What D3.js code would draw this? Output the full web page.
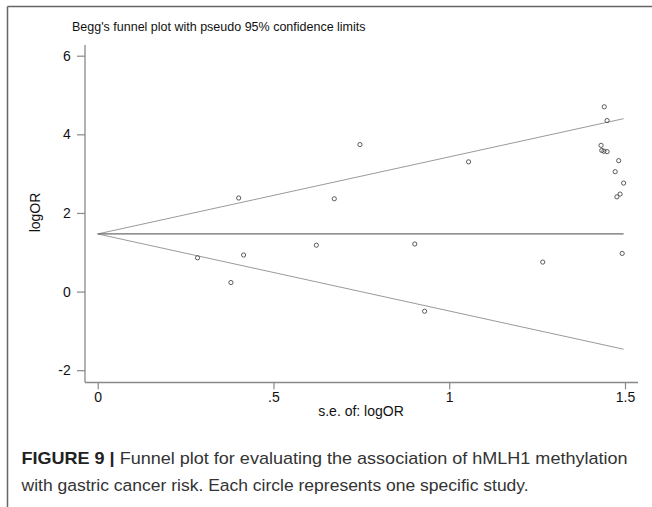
<!DOCTYPE html>
<html><head><meta charset="utf-8">
<script src="https://cdn.jsdelivr.net/npm/d3@7"></script>
<style>
body{margin:0;background:#fff}
svg{display:block}
text{font-family:"Liberation Sans",Arial,Helvetica,sans-serif}
</style>
</head><body>
<svg id="c" width="652" height="507"></svg>
<script>
// ---- data ----
const studySE    = [0.284, 0.379, 0.401, 0.415, 0.622, 0.673, 0.746, 0.902, 0.930, 1.055, 1.266,
                    1.432, 1.434, 1.440, 1.441, 1.449, 1.449, 1.472, 1.477, 1.482, 1.486, 1.492, 1.496];
const studyLogOR = [0.86, 0.23, 2.38, 0.93, 1.18, 2.36, 3.74, 1.21, -0.50, 3.30, 0.75,
                    3.72, 3.59, 3.57, 4.70, 4.35, 3.56, 3.05, 2.41, 3.33, 2.48, 0.97, 2.76];
const pooledLogOR = 1.466;
const xTicks = [0, 0.5, 1, 1.5];
const xTickLabels = ["0", ".5", "1", "1.5"];
const yTicks = [-2, 0, 2, 4, 6];
const yTickLabels = ["-2", "0", "2", "4", "6"];
const titleText = "Begg's funnel plot with pseudo 95% confidence limits";
const xAxisTitle = "s.e. of: logOR";
const yAxisTitle = "logOR";
const captionBold = "FIGURE 9 |";
const captionLine1 = " Funnel plot for evaluating the association of hMLH1 methylation";
const captionLine2 = "with gastric cancer risk. Each circle represents one specific study.";

// ---- layout ----
const svg = d3.select("#c");
const region = {left: 85, right: 638, top: 45, bottom: 382.5};
const x = d3.scaleLinear().domain([0, 1.5]).range([97.7, 625]);
const y = d3.scaleLinear().domain([-2, 6]).range([370.2, 55.7]);

// outer frame (cropped on right/bottom)
svg.append("line").attr("x1", 7.5).attr("x2", 7.5).attr("y1", 6.5).attr("y2", 507)
  .attr("stroke", "#666").attr("stroke-width", 1.5);
svg.append("line").attr("x1", 7.5).attr("x2", 652).attr("y1", 6.5).attr("y2", 6.5)
  .attr("stroke", "#666").attr("stroke-width", 1.5);

// title
svg.append("text").attr("x", 72).attr("y", 31).attr("font-size", 12.5).attr("fill", "#111")
  .text(titleText);

// axes
const axisColor = "#888";
const gy = svg.append("g").attr("transform", `translate(${region.left},0)`)
  .call(d3.axisLeft(y).tickValues(yTicks).tickFormat((d, i) => yTickLabels[i]).tickSize(8).tickPadding(6.3));
const gx = svg.append("g").attr("transform", `translate(0,${region.bottom})`)
  .call(d3.axisBottom(x).tickValues(xTicks).tickFormat((d, i) => xTickLabels[i]).tickSize(6.8).tickPadding(2.3));
[gx, gy].forEach(g => {
  g.select(".domain").remove();
  g.selectAll(".tick line").attr("stroke", axisColor).attr("stroke-width", 1.2);
  g.selectAll(".tick text").attr("font-size", 14).attr("fill", "#111")
    .attr("font-family", '"Liberation Sans",Arial,sans-serif');
});
svg.append("line").attr("x1", region.left).attr("x2", region.left)
  .attr("y1", region.top).attr("y2", region.bottom)
  .attr("stroke", axisColor).attr("stroke-width", 1.3);
svg.append("line").attr("x1", region.left).attr("x2", region.right)
  .attr("y1", region.bottom).attr("y2", region.bottom)
  .attr("stroke", axisColor).attr("stroke-width", 1.3);

// axis titles
svg.append("text").attr("x", 361).attr("y", 416).attr("text-anchor", "middle")
  .attr("font-size", 14).attr("fill", "#111").text(xAxisTitle);
svg.append("text").attr("transform", "translate(40,212.5) rotate(-90)").attr("text-anchor", "middle")
  .attr("font-size", 14).attr("fill", "#111").text(yAxisTitle);

// funnel lines
const seMax = d3.max(studySE);
const line = d3.line().x(d => x(d[0])).y(d => y(d[1]));
const upper = [[0, pooledLogOR], [seMax, pooledLogOR + 1.96 * seMax]];
const lower = [[0, pooledLogOR], [seMax, pooledLogOR - 1.96 * seMax]];
const mid = [[0, pooledLogOR], [seMax, pooledLogOR]];
[upper, lower].forEach(l => svg.append("path").attr("d", line(l))
  .attr("fill", "none").attr("stroke", "#9a9a9a").attr("stroke-width", 1));
svg.append("path").attr("d", line(mid)).attr("fill", "none")
  .attr("stroke", "#6e6e6e").attr("stroke-width", 1.3);

// points
svg.append("g").selectAll("circle").data(studySE.map((s, i) => [s, studyLogOR[i]]))
  .join("circle")
  .attr("cx", d => x(d[0])).attr("cy", d => y(d[1])).attr("r", 2.1)
  .attr("fill", "none").attr("stroke", "#4a4a4a").attr("stroke-width", 0.9);

// caption
function fitText(sel, target) {
  const w = sel.node().getBBox().width;
  const xx = +sel.attr("x"), yy = +sel.attr("y");
  sel.attr("x", 0).attr("y", 0).attr("transform", `translate(${xx},${yy}) scale(${target / w},1)`);
}
const cap1 = svg.append("text").attr("x", 21.5).attr("y", 464.3).attr("font-size", 17.2).attr("fill", "#333");
cap1.append("tspan").attr("font-weight", "bold").attr("fill", "#222").text(captionBold);
cap1.append("tspan").text(captionLine1);
fitText(cap1, 606);
const cap2 = svg.append("text").attr("x", 21.5).attr("y", 490.7).attr("font-size", 17.2).attr("fill", "#333")
  .text(captionLine2);
fitText(cap2, 508);
</script>
</body></html>
